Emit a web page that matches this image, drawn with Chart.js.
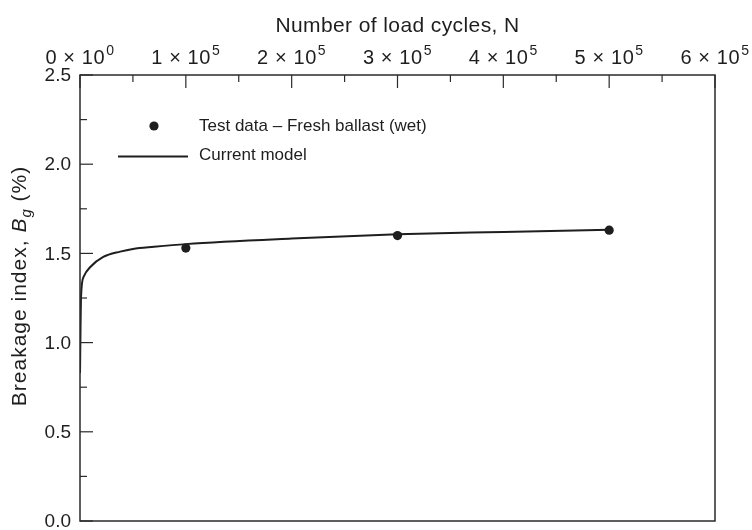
<!DOCTYPE html>
<html>
<head>
<meta charset="utf-8">
<script src="https://cdn.jsdelivr.net/npm/chart.js@4/dist/chart.umd.min.js"></script>
<style>
  html, body { margin: 0; padding: 0; background: #ffffff; }
  #wrap { width: 752px; height: 530px; }
</style>
</head>
<body>
<div id="wrap"><canvas id="c" width="752" height="530"></canvas></div>
<script>
// Test measurements: fresh ballast (wet)
const testCycles = [100000, 300000, 500000];
const testBreakage = [1.53, 1.60, 1.63];

// Model prediction of breakage index against load cycles
const modelCycles = [0, 1000, 3500, 10000, 22000, 38000, 50000, 70000, 100000, 200000, 300000, 400000, 500000];
const modelBreakage = [0.83, 1.26, 1.37, 1.425, 1.48, 1.51, 1.525, 1.537, 1.552, 1.583, 1.607, 1.62, 1.632];

// Axis tick labels (mantissa × 10^exponent on the top axis)
const xTickLabels = ['0 × 10^0', '1 × 10^5', '2 × 10^5', '3 × 10^5', '4 × 10^5', '5 × 10^5', '6 × 10^5'];
const yTickLabels = ['0.0', '0.5', '1.0', '1.5', '2.0', '2.5'];

const FONT = '"Liberation Sans", Arial, Helvetica, sans-serif';
const INK = '#1e1e1e';

const toPoints = (xs, ys) => xs.map((x, i) => ({ x: x, y: ys[i] }));

const framePlugin = {
  id: 'frame',
  afterDraw(chart) {
    const ctx = chart.ctx;
    const a = chart.chartArea;
    const xs = chart.scales.x;
    const ys = chart.scales.y;
    ctx.save();

    // plot frame
    ctx.strokeStyle = '#2a2a2a';
    ctx.lineWidth = 1.5;
    ctx.strokeRect(a.left, a.top, a.right - a.left, a.bottom - a.top);

    // inward ticks on the top axis
    ctx.lineWidth = 1.2;
    xs.ticks.forEach(t => {
      const px = xs.getPixelForValue(t.value);
      const major = Math.abs(t.value % 100000) < 1e-6;
      ctx.beginPath();
      ctx.moveTo(px, a.top);
      ctx.lineTo(px, a.top + (major ? 13 : 7));
      ctx.stroke();
    });
    // inward ticks on the left axis
    ys.ticks.forEach(t => {
      const py = ys.getPixelForValue(t.value);
      const major = Math.abs((t.value * 2) - Math.round(t.value * 2)) < 1e-6;
      ctx.beginPath();
      ctx.moveTo(a.left, py);
      ctx.lineTo(a.left + (major ? 13 : 7), py);
      ctx.stroke();
    });

    ctx.fillStyle = INK;
    ctx.textBaseline = 'alphabetic';

    // top axis labels with superscript exponents
    const majorX = xs.ticks.filter(t => Math.abs(t.value % 100000) < 1e-6);
    majorX.forEach((t, i) => {
      const parts = xTickLabels[i].split('^');
      ctx.letterSpacing = '0.6px';
      ctx.font = '20px ' + FONT;
      const wBase = ctx.measureText(parts[0]).width;
      ctx.font = '14px ' + FONT;
      const wSup = ctx.measureText(parts[1]).width;
      const px = xs.getPixelForValue(t.value);
      const x0 = px - (wBase + wSup + 1) / 2;
      ctx.textAlign = 'left';
      ctx.font = '20px ' + FONT;
      ctx.fillText(parts[0], x0, a.top - 11);
      ctx.font = '14px ' + FONT;
      ctx.fillText(parts[1], x0 + wBase + 1, a.top - 20);
    });
    ctx.letterSpacing = '0px';

    // left axis labels
    ctx.font = '19px ' + FONT;
    ctx.textAlign = 'right';
    ctx.textBaseline = 'middle';
    const majorY = ys.ticks.filter(t => Math.abs((t.value * 2) - Math.round(t.value * 2)) < 1e-6);
    majorY.forEach((t, i) => {
      ctx.fillText(yTickLabels[i], a.left - 9, ys.getPixelForValue(t.value) + 1);
    });

    // top axis title
    ctx.textAlign = 'center';
    ctx.textBaseline = 'alphabetic';
    ctx.letterSpacing = '0.4px';
    ctx.font = '21px ' + FONT;
    ctx.fillText('Number of load cycles, N', (a.left + a.right) / 2, 32);

    // left axis title with italic B and subscript g
    ctx.letterSpacing = '1px';
    const segs = [
      { t: 'Breakage index, ', f: '21px ' + FONT, dy: 0 },
      { t: 'B', f: 'italic 21px ' + FONT, dy: 0 },
      { t: 'g', f: 'italic 15px ' + FONT, dy: 5 },
      { t: ' (%)', f: '21px ' + FONT, dy: 0 }
    ];
    let total = 0;
    segs.forEach(s => { ctx.font = s.f; s.w = ctx.measureText(s.t).width; total += s.w; });
    ctx.save();
    ctx.translate(26, (a.top + a.bottom) / 2 - 12);
    ctx.rotate(-Math.PI / 2);
    ctx.textAlign = 'left';
    let cx = -total / 2;
    segs.forEach(s => {
      ctx.font = s.f;
      ctx.fillText(s.t, cx, s.dy);
      cx += s.w;
    });
    ctx.restore();
    ctx.letterSpacing = '0px';

    // legend
    const lx = a.left;
    const ly = a.top;
    ctx.fillStyle = INK;
    ctx.beginPath();
    ctx.arc(lx + 74, ly + 51, 4.6, 0, Math.PI * 2);
    ctx.fill();
    ctx.strokeStyle = INK;
    ctx.lineWidth = 2;
    ctx.beginPath();
    ctx.moveTo(lx + 38, ly + 81.5);
    ctx.lineTo(lx + 108, ly + 81.5);
    ctx.stroke();
    ctx.font = '17px ' + FONT;
    ctx.textAlign = 'left';
    ctx.textBaseline = 'middle';
    ctx.fillText('Test data – Fresh ballast (wet)', lx + 119, ly + 51);
    ctx.fillText('Current model', lx + 119, ly + 80);

    ctx.restore();
  }
};

new Chart(document.getElementById('c'), {
  type: 'scatter',
  data: {
    datasets: [
      {
        label: 'Current model',
        data: toPoints(modelCycles, modelBreakage),
        showLine: true,
        borderColor: INK,
        borderWidth: 2,
        pointRadius: 0,
        cubicInterpolationMode: 'monotone',
        order: 2
      },
      {
        label: 'Test data – Fresh ballast (wet)',
        data: toPoints(testCycles, testBreakage),
        showLine: false,
        backgroundColor: INK,
        borderColor: INK,
        pointRadius: 4.6,
        pointBorderWidth: 0,
        order: 1
      }
    ]
  },
  options: {
    responsive: false,
    devicePixelRatio: 1,
    animation: false,
    layout: { padding: { left: 80, top: 75, right: 37, bottom: 9 } },
    plugins: {
      legend: { display: false },
      tooltip: { enabled: false }
    },
    scales: {
      x: {
        type: 'linear',
        position: 'top',
        min: 0,
        max: 600000,
        ticks: { display: false, stepSize: 50000 },
        grid: { display: false, drawTicks: false },
        border: { display: false }
      },
      y: {
        type: 'linear',
        min: 0,
        max: 2.5,
        ticks: { display: false, stepSize: 0.25 },
        grid: { display: false, drawTicks: false },
        border: { display: false }
      }
    }
  },
  plugins: [framePlugin]
});
</script>
</body>
</html>
